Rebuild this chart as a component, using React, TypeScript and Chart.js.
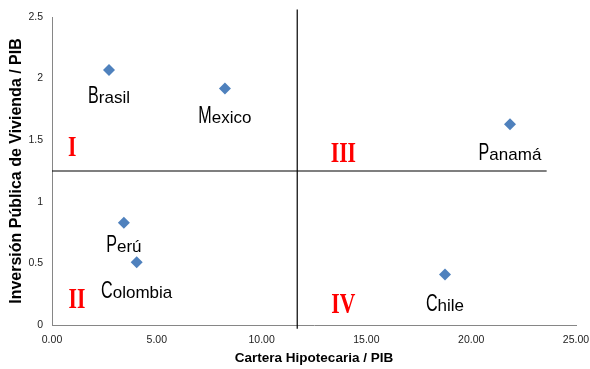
import React, { useEffect, useRef } from "react";
import { Chart, registerables } from "chart.js";

Chart.register(...registerables);

// ---- Data ----
const countries = ["Brasil", "Mexico", "Panamá", "Perú", "Colombia", "Chile"];
const carteraPIB = [2.72, 8.25, 21.85, 3.43, 4.04, 18.75];
const inversionPIB = [2.07, 1.92, 1.63, 0.83, 0.51, 0.41];

// quadrant dividers (data coordinates)
const dividerX = 11.7;
const dividerXSpan = [-0.03, 2.56];
const dividerY = 1.25;
const dividerYSpan = [0, 23.6];

// quadrant names and where they sit (data coordinates)
const quadrantNames = ["I", "II", "III", "IV"];
const quadrantX = [0.96, 1.19, 13.9, 13.9];
const quadrantY = [1.37, 0.14, 1.32, 0.1];

const xTicks = [0, 5, 10, 15, 20, 25];
const yTicks = [0, 0.5, 1, 1.5, 2, 2.5];

// label styling (pixel offset of label baseline below point)
const labelDy = [33, 35, 36, 29, 36, 37];

const labelPlugin = {
  id: "labelPlugin",
  afterDatasetsDraw(chart: any) {
    const ctx = chart.ctx;
    const xs = chart.scales.x;
    const ys = chart.scales.y;
    ctx.save();
    ctx.fillStyle = "#000";
    ctx.textBaseline = "alphabetic";
    ctx.textAlign = "left";
    const capFont = "23px 'Liberation Sans', Arial, sans-serif";
    const restFont = "17px 'Liberation Sans', Arial, sans-serif";
    const capScale = 0.7;
    countries.forEach((name, i) => {
      const px = xs.getPixelForValue(carteraPIB[i]);
      const py = ys.getPixelForValue(inversionPIB[i]);
      const cap = name.charAt(0);
      const rest = name.slice(1);
      ctx.font = capFont;
      const w1 = ctx.measureText(cap).width * capScale;
      ctx.font = restFont;
      const w2 = ctx.measureText(rest).width;
      const start = px - (w1 + w2) / 2;
      const base = py + labelDy[i];
      ctx.save();
      ctx.translate(start, base);
      ctx.scale(capScale, 1);
      ctx.font = capFont;
      ctx.fillText(cap, 0, 0);
      ctx.restore();
      ctx.font = restFont;
      ctx.fillText(rest, start + w1, base);
    });
    ctx.fillStyle = "#FF0000";
    ctx.font = "bold 30px 'Liberation Serif', 'Times New Roman', serif";
    ctx.textAlign = "center";
    quadrantNames.forEach((q, i) => {
      const px = xs.getPixelForValue(quadrantX[i]);
      const py = ys.getPixelForValue(quadrantY[i]);
      ctx.save();
      ctx.translate(px, py);
      ctx.scale(0.72, 1);
      ctx.fillText(q, 0, 0);
      ctx.restore();
    });
    ctx.restore();
  },
};

export default function App() {
  const ref = useRef<HTMLCanvasElement | null>(null);
  useEffect(() => {
    if (!ref.current) return;
    const chart = new Chart(ref.current, {
      type: "scatter",
      data: {
        datasets: [
          {
            label: "Países",
            data: countries.map((_, i) => ({ x: carteraPIB[i], y: inversionPIB[i] })),
            pointStyle: "rectRot",
            pointRadius: 6,
            pointBackgroundColor: "#4F81BD",
            pointBorderColor: "#4F81BD",
            pointBorderWidth: 0,
            showLine: false,
          },
          {
            label: "vertical",
            data: [
              { x: dividerX, y: dividerXSpan[0] },
              { x: dividerX, y: dividerXSpan[1] },
            ],
            showLine: true,
            pointRadius: 0,
            borderColor: "#000",
            borderWidth: 1.2,
            clip: false as any,
          },
          {
            label: "horizontal",
            data: [
              { x: dividerYSpan[0], y: dividerY },
              { x: dividerYSpan[1], y: dividerY },
            ],
            showLine: true,
            pointRadius: 0,
            borderColor: "#000",
            borderWidth: 1.2,
            clip: false as any,
          },
        ],
      },
      options: {
        responsive: false,
        animation: false,
        devicePixelRatio: 1,
        layout: { padding: { left: 0, top: 17, right: 14, bottom: 0 } },
        plugins: {
          legend: { display: false },
          tooltip: { enabled: false },
        },
        scales: {
          x: {
            type: "linear",
            min: xTicks[0],
            max: xTicks[xTicks.length - 1],
            afterBuildTicks: (s: any) => {
              s.ticks = xTicks.map((v) => ({ value: v }));
            },
            afterFit: (s: any) => {
              s.height = 44;
              s.paddingLeft = 0;
              s.paddingRight = 0;
            },
            grid: { display: false, drawTicks: false, tickLength: 0 },
            border: { display: true, color: "#868686", width: 1 },
            ticks: {
              padding: 9,
              color: "#222",
              font: { family: "'Liberation Sans', Arial, sans-serif", size: 10.5 },
              callback: (v: any) => Number(v).toFixed(2),
            },
            title: {
              display: true,
              text: "Cartera Hipotecaria / PIB",
              color: "#000",
              font: { family: "'Liberation Sans', Arial, sans-serif", size: 13.5, weight: "bold" },
              padding: { top: 0, bottom: 3 },
            },
          },
          y: {
            type: "linear",
            min: yTicks[0],
            max: yTicks[yTicks.length - 1],
            afterBuildTicks: (s: any) => {
              s.ticks = yTicks.map((v) => ({ value: v }));
            },
            afterFit: (s: any) => {
              s.width = 52;
              s.paddingTop = 0;
              s.paddingBottom = 0;
            },
            grid: { display: false, drawTicks: false, tickLength: 0 },
            border: { display: true, color: "#868686", width: 1 },
            ticks: {
              padding: 9,
              color: "#222",
              font: { family: "'Liberation Sans', Arial, sans-serif", size: 10.5 },
              callback: (v: any) => String(v),
            },
            title: {
              display: true,
              text: "Inversión Pública de Vivienda / PIB",
              color: "#000",
              font: { family: "'Liberation Sans', Arial, sans-serif", size: 16, weight: "bold" },
              padding: { top: 7, bottom: 0 },
            },
          },
        },
      },
      plugins: [labelPlugin],
    });
    return () => chart.destroy();
  }, []);
  return (
    <div style={{ position: "absolute", left: 0, top: 0, width: 590, height: 369, background: "#fff" }}>
      <canvas ref={ref} width={590} height={369} />
    </div>
  );
}
